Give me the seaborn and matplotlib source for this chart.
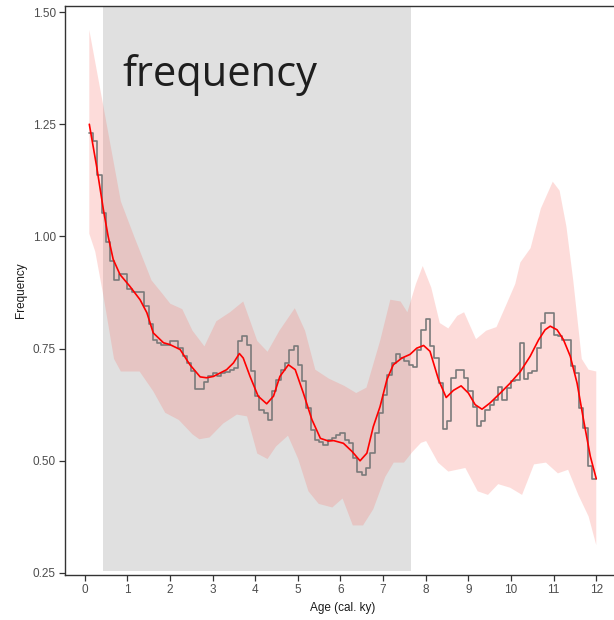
import numpy as np
import pandas as pd
import matplotlib
matplotlib.use("Agg")
import matplotlib.pyplot as plt
import seaborn as sns

# ---- data ----
bin_start = [round(0.1 + 0.1 * i, 1) for i in range(119)]
bin_freq = [
    1.231, 1.213, 1.136, 1.053, 0.987, 0.945, 0.904, 0.917, 0.917, 0.882,
    0.876, 0.876, 0.876, 0.844, 0.804, 0.770, 0.763, 0.759, 0.759, 0.766,
    0.766, 0.752, 0.733, 0.718, 0.699, 0.661, 0.660, 0.675, 0.688, 0.696,
    0.688, 0.696, 0.697, 0.702, 0.707, 0.766, 0.777, 0.759, 0.699, 0.644,
    0.614, 0.606, 0.592, 0.655, 0.681, 0.703, 0.718, 0.748, 0.755, 0.714,
    0.677, 0.618, 0.569, 0.547, 0.541, 0.535, 0.547, 0.551, 0.558, 0.563,
    0.547, 0.539, 0.506, 0.476, 0.469, 0.484, 0.517, 0.562, 0.606, 0.647,
    0.692, 0.718, 0.737, 0.728, 0.722, 0.714, 0.709, 0.748, 0.792, 0.816,
    0.755, 0.729, 0.673, 0.570, 0.588, 0.685, 0.702, 0.702, 0.685, 0.655,
    0.620, 0.577, 0.588, 0.614, 0.625, 0.636, 0.665, 0.636, 0.662, 0.677,
    0.681, 0.763, 0.682, 0.696, 0.700, 0.752, 0.806, 0.830, 0.830, 0.781,
    0.779, 0.770, 0.770, 0.711, 0.696, 0.618, 0.574, 0.489, 0.459,
]

smooth_age = [0.11, 0.28, 0.44, 0.55, 0.67, 0.83, 1.06, 1.30, 1.46, 1.61, 1.85, 2.00,
              2.24, 2.47, 2.71, 2.86, 3.02, 3.33, 3.49, 3.63, 3.72, 3.88, 4.07, 4.27,
              4.43, 4.58, 4.78, 4.94, 5.13, 5.33, 5.53, 5.72, 5.84, 6.07, 6.27, 6.46,
              6.62, 6.77, 6.93, 7.09, 7.24, 7.44, 7.63, 7.79, 7.95, 8.10, 8.30, 8.48,
              8.65, 8.83, 9.00, 9.16, 9.32, 9.51, 9.75, 9.98, 10.22, 10.45, 10.65, 10.80,
              10.92, 11.08, 11.23, 11.39, 11.55, 11.70, 11.86, 12.00]
smooth_freq = [1.250, 1.157, 1.060, 1.001, 0.949, 0.915, 0.889, 0.859, 0.830, 0.785, 0.763, 0.759,
               0.748, 0.714, 0.687, 0.685, 0.688, 0.703, 0.718, 0.739, 0.729, 0.688, 0.644, 0.627,
               0.644, 0.688, 0.714, 0.703, 0.651, 0.592, 0.550, 0.544, 0.545, 0.539, 0.521, 0.500,
               0.517, 0.576, 0.621, 0.681, 0.714, 0.729, 0.737, 0.751, 0.757, 0.744, 0.681, 0.641,
               0.657, 0.667, 0.651, 0.625, 0.615, 0.629, 0.651, 0.673, 0.699, 0.733, 0.770, 0.792,
               0.800, 0.792, 0.770, 0.733, 0.673, 0.592, 0.510, 0.460]

upper_age = [0.11, 0.45, 0.85, 1.17, 1.57, 1.81, 2.01, 2.29, 2.53, 2.81, 3.09, 3.41, 3.72,
             4.05, 4.29, 4.57, 4.93, 5.17, 5.41, 5.73, 6.09, 6.37, 6.61, 6.93, 7.17, 7.41,
             7.57, 7.77, 7.93, 8.13, 8.33, 8.53, 8.74, 8.90, 9.18, 9.42, 9.66, 9.90, 10.10,
             10.22, 10.46, 10.70, 10.98, 11.14, 11.30, 11.46, 11.66, 11.82, 12.00]
upper_freq = [1.460, 1.285, 1.078, 0.998, 0.902, 0.874, 0.850, 0.838, 0.790, 0.755, 0.811, 0.831, 0.855,
              0.767, 0.743, 0.790, 0.840, 0.790, 0.703, 0.683, 0.667, 0.651, 0.663, 0.767, 0.859, 0.855,
              0.831, 0.894, 0.934, 0.886, 0.807, 0.795, 0.823, 0.831, 0.771, 0.790, 0.798, 0.850, 0.894,
              0.942, 0.974, 1.062, 1.122, 1.102, 1.022, 0.902, 0.727, 0.703, 0.699]

lower_age = [0.11, 0.25, 0.45, 0.69, 0.85, 1.09, 1.29, 1.61, 1.89, 2.21, 2.53, 2.69, 2.93,
             3.25, 3.57, 3.81, 4.05, 4.29, 4.49, 4.77, 5.01, 5.25, 5.49, 5.81, 6.05, 6.29,
             6.53, 6.77, 7.05, 7.25, 7.49, 7.69, 7.89, 8.01, 8.29, 8.53, 8.93, 9.22, 9.46,
             9.70, 9.98, 10.26, 10.54, 10.82, 11.10, 11.34, 11.58, 11.82, 12.00]
lower_freq = [1.006, 0.966, 0.863, 0.727, 0.699, 0.699, 0.699, 0.655, 0.607, 0.591, 0.559, 0.548, 0.552,
              0.583, 0.603, 0.599, 0.516, 0.504, 0.532, 0.556, 0.504, 0.432, 0.404, 0.396, 0.416, 0.356,
              0.356, 0.392, 0.464, 0.496, 0.496, 0.520, 0.540, 0.544, 0.496, 0.476, 0.484, 0.432, 0.424,
              0.448, 0.440, 0.424, 0.492, 0.496, 0.472, 0.480, 0.424, 0.376, 0.312]

x_ticks = list(range(0, 13))
y_ticks = [0.25, 0.50, 0.75, 1.00, 1.25, 1.50]
y_ticklabels = ["0.25", "0.50", "0.75", "1.00", "1.25", "1.50"]
shade_span = (0.43, 7.66)

# ---- figure ----
sns.set_style("ticks")
plt.rcParams["font.family"] = ["Liberation Sans", "DejaVu Sans"]

fig = plt.figure(figsize=(6.14, 6.20), dpi=100)
ax = fig.add_axes([65 / 614, 45 / 620, (621 - 65) / 614, (575 - 6) / 620])

ax.axvspan(shade_span[0], shade_span[1], ymin=0.007, ymax=1.0, color="#e0e0e0", lw=0, zorder=0)

ax.fill(list(upper_age) + list(lower_age[::-1]), list(upper_freq) + list(lower_freq[::-1]),
        color="#F8766D", alpha=0.25, lw=0, zorder=1)

step_df = pd.DataFrame({"age": bin_start + [12.0], "freq": bin_freq + [bin_freq[-1]]})
sns.lineplot(data=step_df, x="age", y="freq", ax=ax, color="#7a7a7a", lw=1.2,
             drawstyle="steps-post", estimator=None, sort=True, zorder=2)

smooth_df = pd.DataFrame({"age": smooth_age, "freq": smooth_freq})
sns.lineplot(data=smooth_df, x="age", y="freq", ax=ax, color="#ff0000", lw=1.2,
             estimator=None, zorder=3)

ax.set_xlim(-0.46, 12.58)
ax.set_ylim(0.2455, 1.5135)
ax.set_xticks(x_ticks)
ax.set_xticklabels([str(t) for t in x_ticks])
ax.set_yticks(y_ticks)
ax.set_yticklabels(y_ticklabels)
ax.tick_params(axis="both", colors="#333333", labelcolor="#4d4d4d", labelsize=8.5,
               length=4, width=0.9, pad=2.5)
for s in ax.spines.values():
    s.set_visible(True)
    s.set_color("#333333")
    s.set_linewidth(1.0)

ax.set_xlabel("Age (cal. ky)", fontsize=8.5, color="#1a1a1a", labelpad=4)
ax.set_ylabel("Frequency", fontsize=8.5, color="#1a1a1a", labelpad=4)

ax.text(0.88, 1.335, "frequency", family=["Open Sans", "DejaVu Sans"], fontsize=30,
        color="#1e1e1e", va="baseline", ha="left", zorder=4)

fig.savefig("out.png", dpi=100)
